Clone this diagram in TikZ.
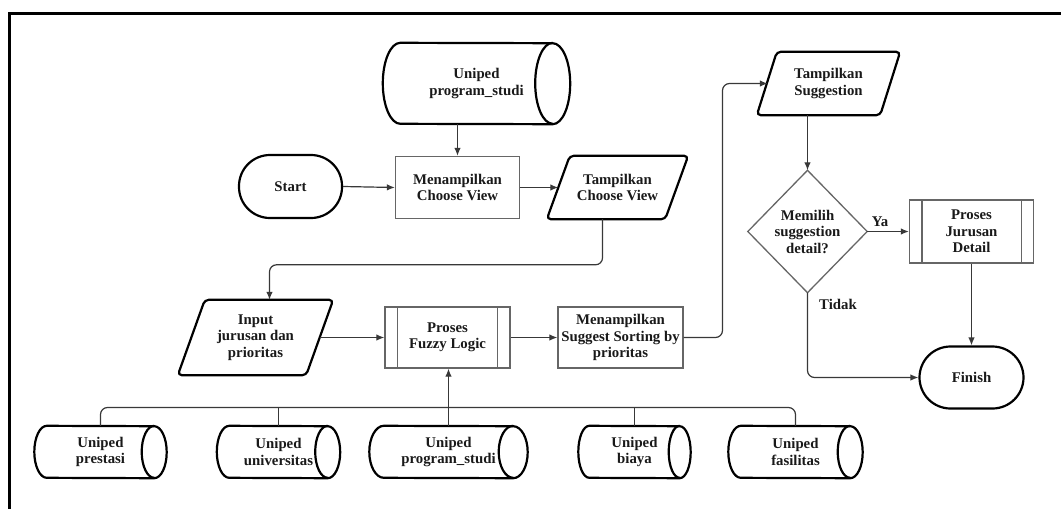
\documentclass[tikz,border=0pt]{standalone}
\usepackage{fontspec}
\setmainfont{Liberation Serif}
\usetikzlibrary{calc,arrows.meta}
\begin{document}
\begin{tikzpicture}[x=1pt,y=-1pt,
  lbl/.style={font=\fontsize{14.8}{16.5}\selectfont\bfseries, text=black!90,
              align=center, inner sep=0pt},
  sized/.style 2 args={minimum width=#1pt, minimum height=#2pt},
  boxline/.style={draw=black!60, line width=1.3pt},
  heavy/.style={draw=black, line width=2.2pt},
  conn/.style={draw=black!78, line width=1.2pt, rounded corners=7pt},
  arr/.style={conn, -{Latex[length=8pt,width=6.5pt]}},
]
\useasboundingbox (0,0) rectangle (1061,509);

% frame
\draw[black, line width=3pt] (9,509) -- (9,13.5) -- (1061,13.5);

% terminators
\node[lbl, heavy, sized={103}{63}, rounded corners=31pt] (start) at (290.5,186.5) {Start};
\node[lbl, heavy, sized={104}{62}, rounded corners=31pt] (fin) at (971.5,377.5) {Finish};

% plain process boxes
\node[lbl, boxline, sized={124}{62}] (mcv) at (457.5,187.5) {Menampilkan\\Choose View};
\node[lbl, boxline, sized={125}{61}] (sug) at (620.5,337.5) {Menampilkan\\Suggest Sorting by\\prioritas};

% predefined processes
\node[lbl, boxline, sized={125}{61}] (pfl) at (447.5,337.5) {Proses\\Fuzzy Logic};
\node[lbl, boxline, sized={124}{63}] (pjd) at (971.5,231.5) {Proses\\Jurusan\\Detail};
\foreach \nm in {pfl,pjd}
  \draw[boxline] ($(\nm.north west)+(13,0)$) -- ($(\nm.south west)+(13,0)$)
                 ($(\nm.north east)+(-13,0)$) -- ($(\nm.south east)+(-13,0)$);

% input / output
\node[lbl, sized={141}{63}] (tcv) at (617.5,187.5) {Tampilkan\\Choose View};
\node[lbl, sized={155}{75}] (inp) at (255.5,337.5) {Input\\jurusan dan\\prioritas};
\node[lbl, sized={143}{63}] (tsg) at (828.5,83.5) {Tampilkan\\Suggestion};
\foreach \nm/\s in {tcv/23, inp/27, tsg/20}
  \draw[heavy, rounded corners=4pt] ($(\nm.north west)+(\s,0)$) -- (\nm.north east)
        -- ($(\nm.south east)+(-\s,0)$) -- (\nm.south west) -- cycle;

% decision
\node[lbl, sized={119}{122}] (dia) at (807.5,231.5) {Memilih\\suggestion\\detail?};
\draw[boxline] (dia.north) -- (dia.east) -- (dia.south) -- (dia.west) -- cycle;

% data stores
\node[lbl, sized={187}{81}] (db0) at (476.5,83.5) {Uniped\\program\_studi};
\node[lbl, sized={132}{52}] (dbA) at (100.5,452) {Uniped\\prestasi};
\node[lbl, sized={123}{52}] (dbB) at (278.5,452) {Uniped\\universitas};
\node[lbl, sized={158}{52}] (dbC) at (448.5,452) {Uniped\\program\_studi};
\node[lbl, sized={112}{52}] (dbD) at (634.5,452) {Uniped\\biaya};
\node[lbl, sized={134}{52}] (dbE) at (795.5,452) {Uniped\\fasilitas};
\foreach \nm/\r/\ry in {db0/17.5/40.5, dbA/12.5/26, dbB/12.5/26, dbC/14.5/26, dbD/11/26, dbE/12.5/26} {
  \draw[heavy] ($(\nm.north west)+(\r,0)$)
        arc[start angle=90, end angle=270, x radius=\r pt, y radius=\ry pt]
        -- ($(\nm.south east)+(-\r,0)$)
        arc[start angle=-90, end angle=90, x radius=\r pt, y radius=\ry pt] -- cycle;
  \draw[heavy] ($(\nm.north east)+(-\r,0)$)
        arc[start angle=90, end angle=270, x radius=\r pt, y radius=\ry pt];
}

% attachment points on slanted shapes
\coordinate (tcv-l) at ($(tcv.west)+(11.5,0)$);
\coordinate (tcv-b) at ($(tcv.south)+(-15,0)$);
\coordinate (inp-t) at ($(inp.north)+(14,0)$);
\coordinate (inp-r) at ($(inp.east)+(-13.5,0)$);
\coordinate (tsg-l) at ($(tsg.west)+(11,0)$);
\coordinate (bend1) at ($(inp-t)+(0,-35)$);
\coordinate (c1) at (722.5,83.5);
\coordinate (bus) at (0,407.5);

% connectors
\draw[arr] (start.east) -- (mcv.west);
\draw[arr] (mcv.north |- db0.south) -- (mcv.north);
\draw[arr] (mcv.east) -- (tcv-l);
\draw[arr] (tcv-b) |- (bend1) -- (inp-t);
\draw[arr] (inp-r) -- (pfl.west);
\draw[arr] (pfl.east) -- (sug.west);
\draw[arr] (sug.east) -| (c1) -- (tsg-l);
\draw[arr] (dia.north |- tsg.south) -- (dia.north);
\draw[arr] (dia.east) -- (pjd.west);
\draw[arr] (pjd.south) -- (fin.north);
\draw[arr] (dia.south) |- (fin.west);

% data bus
\draw[conn] (dbA.north) |- (dbE.north |- bus) -- (dbE.north);
\draw[conn] (dbB.north) -- (dbB.north |- bus);
\draw[conn] (dbD.north) -- (dbD.north |- bus);
\draw[arr] (dbC.north) -- (dbC.north |- pfl.south);

% branch labels
\node[lbl] (ya) at (880,222) {Ya};
\node[lbl] (tidak) at (838,304) {Tidak};
\end{tikzpicture}
\end{document}
